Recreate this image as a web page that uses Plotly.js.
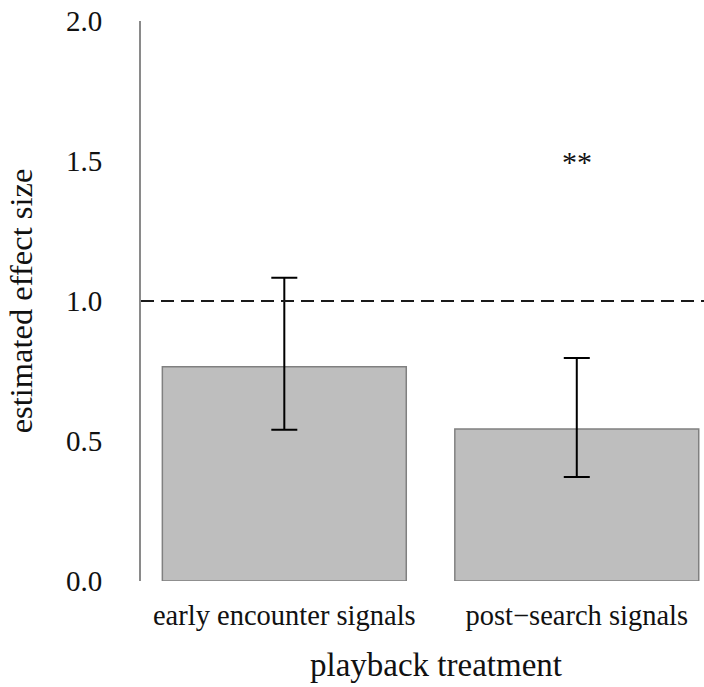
<!DOCTYPE html>
<html>
<head>
<meta charset="utf-8">
<script src="https://cdn.plot.ly/plotly-3.0.1.min.js"></script>
<style>
  html, body { margin: 0; padding: 0; background: #fff; }
  #chart { width: 704px; height: 687px; }
</style>
</head>
<body>
<div id="chart"></div>
<script>
// Playback treatments and their estimated effect sizes with confidence limits
const treatments = ["early encounter signals", "post\u2212search signals"];
const effectSize = [0.765, 0.543];
const upperLimit = [1.083, 0.796];
const lowerLimit = [0.540, 0.371];

// Reference level (no effect) and significance marker
const referenceLevel = 1.0;
const markerText = "**";
const markerTreatment = treatments[1];
const markerLevel = 1.5;

const yTickVals = [0, 0.5, 1.0, 1.5, 2.0];
const xTitle = "playback treatment";
const yTitle = "estimated effect size";

const serif = "'Liberation Serif', 'Times New Roman', serif";

const trace = {
  type: "bar",
  x: treatments,
  y: effectSize,
  marker: {
    color: "#bebebe",
    line: { color: "#808080", width: 1.5 }
  },
  error_y: {
    type: "data",
    symmetric: false,
    array: upperLimit.map((u, i) => u - effectSize[i]),
    arrayminus: lowerLimit.map((l, i) => effectSize[i] - l),
    color: "#000",
    thickness: 2,
    width: 13
  },
  hoverinfo: "x+y"
};

const layout = {
  width: 704,
  height: 687,
  margin: { l: 141, r: 0, t: 21, b: 106 },
  paper_bgcolor: "#fff",
  plot_bgcolor: "#fff",
  showlegend: false,
  bargap: 0.166,
  font: { family: serif, color: "#111" },
  xaxis: {
    type: "category",
    range: [-0.49, 1.435],
    showline: false,
    showgrid: false,
    zeroline: false,
    ticks: "",
    ticklabelstandoff: 14,
    tickfont: { family: serif, size: 28.5, color: "#111" }
  },
  yaxis: {
    range: [0, 2],
    tickvals: yTickVals,
    tickformat: ".1f",
    showline: true,
    linecolor: "#8a8a8a",
    linewidth: 2,
    showgrid: false,
    zeroline: false,
    ticks: "",
    ticklabelstandoff: 31,
    tickfont: { family: serif, size: 29, color: "#111" },
    title: {
      text: yTitle,
      font: { family: serif, size: 32.5, color: "#111" },
      standoff: 24
    }
  },
  shapes: [{
    type: "line",
    xref: "paper",
    yref: "y",
    x0: 0,
    x1: 1,
    y0: referenceLevel,
    y1: referenceLevel,
    line: { color: "#1a1a1a", width: 2, dash: "13px,7px" }
  }],
  annotations: [
    {
      x: markerTreatment,
      y: markerLevel,
      xref: "x",
      yref: "y",
      text: markerText,
      showarrow: false,
      font: { family: serif, size: 30, color: "#111" },
      yanchor: "middle"
    },
    {
      // x-axis title, centred under the two bars
      x: 0.524,
      y: 0,
      xref: "paper",
      yref: "paper",
      xanchor: "center",
      yanchor: "top",
      yshift: -64,
      text: xTitle,
      showarrow: false,
      font: { family: serif, size: 33, color: "#111" }
    }
  ]
};

Plotly.newPlot("chart", [trace], layout, { displayModeBar: false, staticPlot: true });
</script>
</body>
</html>
